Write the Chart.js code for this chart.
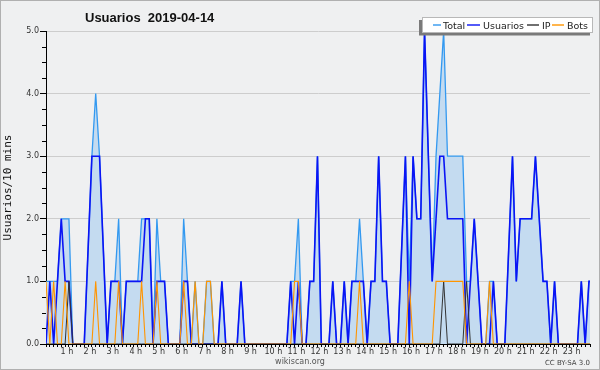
<!DOCTYPE html>
<html><head><meta charset="utf-8">
<script src="https://cdn.jsdelivr.net/npm/chart.js@4.4.1/dist/chart.umd.min.js"></script>
<style>html,body{margin:0;padding:0;background:#eff0f1;}#wrap{width:600px;height:370px;}</style>
</head><body><div id="wrap"><canvas id="c" width="600" height="370"></canvas></div>
<script>
// 144 ten-minute slots of 2019-04-14; slot index is the x value
const hourLabels = ['1 h','2 h','3 h','4 h','5 h','6 h','7 h','8 h','9 h','10 h','11 h','12 h','13 h','14 h','15 h','16 h','17 h','18 h','19 h','20 h','21 h','22 h','23 h'];
const yTickLabels = ['0.0','1.0','2.0','3.0','4.0','5.0'];

const usuarios = [
  0,1,0,1,2,1,  1,0,0,0,0,1.5,  3,3,3,1.5,0,1,  1,1,0,1,1,1,
  1,1,2,2,0,1,  1,1,0,0,0,0,    1,1,0,0,0,0,    0,0,0,0,1,0,
  0,0,0,1,0,0,  0,0,0,0,0,0,    0,0,0,0,1,0,    1,0,0,1,1,3,
  0,0,0,1,0,0,  1,0,1,1,1,1,    0,1,1,3,1,1,    0,0,0,1.5,3,0,
  3,2,2,5,3,1,  2,3,3,2,2,2,    2,2,0,1,2,1,    0,0,0,1,0,0,
  0,1.5,3,1,2,2, 2,2,3,2,1,1,   0,1,0,0,0,0,    0,0,1,0,1,1
];
const bots = [
  1,0,1,0,0,1,  0,0,0,0,0,0,  0,1,0,0,0,0,  0,1,0,0,0,0,
  0,1,0,0,0,1,  0,0,0,0,0,0,  1,0,0,1,0,0,  1,1,0,0,0,0,
  0,0,0,0,0,0,  0,0,0,0,0,0,  0,0,0,0,0,1,  1,0,0,0,0,0,
  0,0,0,0,0,0,  0,0,0,0,1,0,  0,0,0,0,0,0,  0,0,0,0,0,1,
  0,0,0,0,0,0,  1,1,1,1,1,1,  1,1,0,0,0,0,  0,0,1,0,0,0,
  0,0,0,0,0,0,  0,0,0,0,0,0,  0,0,0,0,0,0,  0,0,0,0,0,0
];
const ip = [
  0,0,0,0,0,0,  1,0,0,0,0,0,  0,0,0,0,0,0,  0,0,0,0,0,0,
  0,0,0,0,0,0,  0,0,0,0,0,0,  0,0,0,0,0,0,  0,0,0,0,0,0,
  0,0,0,0,0,0,  0,0,0,0,0,0,  0,0,0,0,0,0,  0,0,0,0,0,0,
  0,0,0,0,0,0,  0,0,0,0,0,0,  0,0,0,0,0,0,  0,0,0,0,0,0,
  0,0,0,0,0,0,  0,0,1,0,0,0,  0,0,1,0,0,0,  0,0,0,0,0,0,
  0,0,0,0,0,0,  0,0,0,0,0,0,  0,0,0,0,0,0,  0,0,0,0,0,0
];
const total = [
  1,1,1,1,2,2,  2,0,0,0,0,1.5,  3,4,3,1.5,0,1,  1,2,0,1,1,1,
  1,2,2,2,0,2,  1,1,0,0,0,0,    2,1,0,1,0,0,    1,1,0,0,1,0,
  0,0,0,1,0,0,  0,0,0,0,0,0,    0,0,0,0,1,1,    2,0,0,1,1,3,
  0,0,0,1,0,0,  1,0,1,1,2,1,    0,1,1,3,1,1,    0,0,0,1.5,3,1,
  3,2,2,5,3,1,  3,4,5,3,3,3,    3,3,1,1,2,1,    0,0,1,1,0,0,
  0,1.5,3,1,2,2, 2,2,3,2,1,1,   0,1,0,0,0,0,    0,0,1,0,1,1
];

const FONT = 'DejaVu Sans';
const pts = arr => arr.map((v, i) => ({ x: i, y: v }));

const frame = {
  id: 'frame',
  beforeDraw(chart) {
    const c = chart.ctx;
    c.save();
    c.fillStyle = '#eff0f1';
    c.fillRect(0, 0, chart.width, chart.height);
    c.restore();
  },
  afterDraw(chart) {
    const c = chart.ctx, ys = chart.scales.y, left = chart.chartArea.left;
    c.save();
    c.strokeStyle = '#000'; c.lineWidth = 1;
    for (let v = 0.25; v < 5; v += 0.25) {
      if (Number.isInteger(v)) continue;
      const py = Math.round(ys.getPixelForValue(v)) + 0.5;
      c.beginPath(); c.moveTo(left - 4, py); c.lineTo(left, py); c.stroke();
    }
    // title
    c.fillStyle = '#111';
    c.font = 'bold 13px "Liberation Sans"';
    c.textBaseline = 'alphabetic'; c.textAlign = 'left';
    c.fillText('Usuarios  2019-04-14', 85, 22);
    // legend box with shadow
    c.fillStyle = '#7a7a7a';
    c.fillRect(419, 20, 171, 15.5);
    c.fillStyle = '#ffffff';
    c.fillRect(422, 17, 171, 16);
    c.strokeStyle = '#b8b8b8';
    c.strokeRect(422.5, 17.5, 170, 15);
    const items = [
      ['Total', '#3399f0', 433, 441, 443],
      ['Usuarios', '#0a14f5', 467, 480, 483],
      ['IP', '#333333', 527, 539, 542],
      ['Bots', '#ff9500', 552, 564, 567]
    ];
    c.font = '9.5px "' + FONT + '"';
    for (const it of items) {
      c.beginPath();
      c.strokeStyle = it[1]; c.lineWidth = 1.4;
      c.moveTo(it[2], 25); c.lineTo(it[3], 25); c.stroke();
      c.fillStyle = '#222';
      c.fillText(it[0], it[4], 28.5);
    }
    // footer
    c.fillStyle = '#555';
    c.font = '8px "' + FONT + '"';
    c.textAlign = 'center';
    c.fillText('wikiscan.org', 300, 364);
    c.textAlign = 'right';
    c.font = '7px "' + FONT + '"';
    c.fillStyle = '#444';
    c.fillText('CC BY-SA 3.0', 590, 365);
    c.strokeStyle = '#b0b0b0'; c.lineWidth = 1;
    c.strokeRect(0.5, 0.5, chart.width - 1, chart.height - 1);
    c.restore();
  }
};

const base = { pointRadius: 0, pointHoverRadius: 0, tension: 0, fill: false };
new Chart(document.getElementById('c'), {
  type: 'line',
  data: {
    datasets: [
      Object.assign({}, base, { label: 'Total', data: pts(total), borderColor: '#3399f0', borderWidth: 1.3, backgroundColor: '#c4dbf0', fill: 'origin', order: 3 }),
      Object.assign({}, base, { label: 'Usuarios', data: pts(usuarios), borderColor: '#0a14f5', borderWidth: 1.6, order: 2 }),
      Object.assign({}, base, { label: 'IP', data: pts(ip), borderColor: '#333333', borderWidth: 1, order: 1 }),
      Object.assign({}, base, { label: 'Bots', data: pts(bots), borderColor: '#ff9500', borderWidth: 1.1, order: 0 })
    ]
  },
  options: {
    responsive: false,
    animation: false,
    events: [],
    layout: { padding: { top: 31, right: 10, left: 0, bottom: 0 } },
    plugins: { legend: { display: false }, title: { display: false }, tooltip: { enabled: false } },
    scales: {
      x: {
        type: 'linear',
        min: 0, max: 142.27,
        grid: { display: true, drawOnChartArea: false, drawTicks: true, tickLength: 3, tickColor: '#000', tickWidth: 1 },
        border: { display: true, color: '#000', width: 1 },
        ticks: {
          stepSize: 1, autoSkip: false, maxTicksLimit: 1000, maxRotation: 0, minRotation: 0, padding: 0, labelOffset: -2,
          color: '#333', font: { family: FONT, size: 8 },
          callback: v => (Number.isInteger(v) && v % 6 === 0 && v > 0) ? hourLabels[v / 6 - 1] : ''
        },
        afterFit: s => { s.height = 26; }
      },
      y: {
        min: 0, max: 5,
        grid: {
          drawTicks: true, tickLength: 6,
          color: ctx => (ctx.tick && Number.isInteger(ctx.tick.value) && ctx.tick.value > 0) ? '#cdcdcd' : 'rgba(0,0,0,0)',
          tickColor: ctx => (ctx.tick && Number.isInteger(ctx.tick.value)) ? '#000' : 'rgba(0,0,0,0)'
        },
        border: { display: true, color: '#000', width: 1 },
        ticks: {
          stepSize: 0.25, autoSkip: false, padding: 1,
          color: '#333', font: { family: FONT, size: 8 },
          callback: v => Number.isInteger(v) ? yTickLabels[v] : ''
        },
        title: { display: true, text: 'Usuarios/10 mins', color: '#111', font: { family: 'DejaVu Sans Mono', size: 11 }, padding: { top: 2, bottom: 0 } },
        afterFit: s => { s.width = 46; }
      }
    }
  },
  plugins: [frame]
});
</script></body></html>
